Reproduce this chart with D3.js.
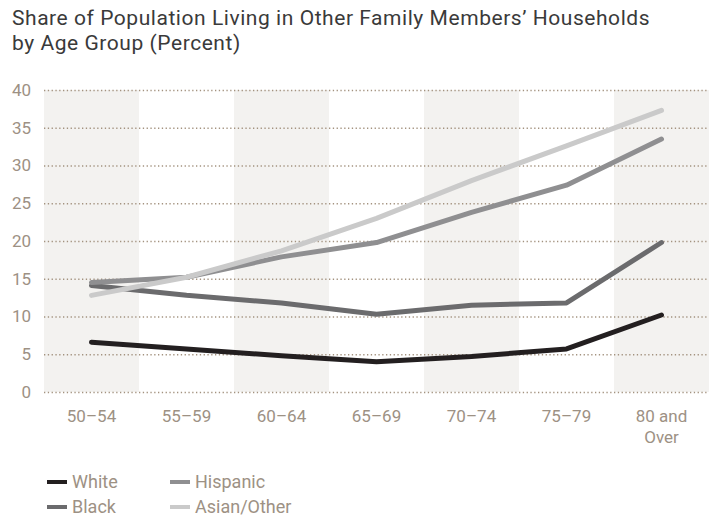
<!DOCTYPE html>
<html><head><meta charset="utf-8">
<script src="https://cdn.jsdelivr.net/npm/d3@7"></script>
<style>body{margin:0;background:#fff}svg{display:block}text{font-family:Roboto,"DejaVu Sans",sans-serif}</style>
</head><body>
<svg id="c" width="711" height="529"></svg>
<script>
const categories = ["50–54","55–59","60–64","65–69","70–74","75–79","80 and Over"];
const white    = [6.6, 5.7, 4.8, 4.0, 4.7, 5.7, 10.2];
const black    = [14.1, 12.8, 11.8, 10.3, 11.5, 11.8, 19.8];
const hispanic = [14.5, 15.2, 17.9, 19.8, 23.8, 27.4, 33.5];
const asian    = [12.8, 15.2, 18.7, 23.0, 28.0, 32.6, 37.3];
const yTicks = [0,5,10,15,20,25,30,35,40];
const seriesNames = ["White","Black","Hispanic","Asian/Other"];
const seriesColors = ["#231f20","#6b6b6d","#8f8f91","#cacaca"];
const titleLines = ["Share of Population Living in Other Family Members’ Households","by Age Group (Percent)"];

const series = [white, black, hispanic, asian];
const svg = d3.select("#c");
const x = d3.scaleBand().domain(categories).range([44, 709]).padding(0);
const y = d3.scaleLinear().domain([0, 40]).range([392, 90]);
const labelColor = "#9d9184";

// title
svg.append("g").selectAll("text").data(titleLines).join("text")
  .attr("x", 12).attr("y", (d,i) => 25 + i*25)
  .attr("font-size", 21).attr("fill", "#3a3a3a").attr("letter-spacing", 0.55)
  .text(d => d);

// alternating bands
svg.append("g").selectAll("rect").data(categories.filter((d,i) => i % 2 === 0)).join("rect")
  .attr("x", d => x(d)).attr("width", x.bandwidth())
  .attr("y", y(40)).attr("height", y(0) - y(40))
  .attr("fill", "#f3f2f0");

// y axis with dotted gridlines
const yAxis = svg.append("g").attr("transform", "translate(44,0)")
  .call(d3.axisLeft(y).tickValues(yTicks).tickSize(-665).tickPadding(13));
yAxis.select(".domain").remove();
yAxis.selectAll(".tick line").attr("stroke", "#a3927f").attr("stroke-width", 1.3)
  .attr("stroke-dasharray", "1.3 2.5");
yAxis.selectAll(".tick text").attr("font-size", 17).attr("fill", labelColor)
  .attr("font-family", "Roboto, sans-serif");

// x axis labels
const xAxis = svg.append("g").attr("transform", "translate(0,392)")
  .call(d3.axisBottom(x).tickSize(0).tickPadding(0));
xAxis.select(".domain").remove();
xAxis.selectAll(".tick text").each(function(d) {
  const t = d3.select(this);
  t.text(null).attr("font-size", 17).attr("fill", labelColor)
   .attr("font-family", "Roboto, sans-serif").attr("y", 0).attr("dy", null);
  const parts = d === "80 and Over" ? ["80 and", "Over"] : [d];
  parts.forEach((p, i) => t.append("tspan").attr("x", 0).attr("y", 30 + i*21).text(p));
});

// lines
const line = d3.line().x((d,i) => x(categories[i]) + x.bandwidth()/2).y(d => y(d));
svg.append("g").selectAll("path").data(series).join("path")
  .attr("d", line).attr("fill", "none")
  .attr("stroke", (d,i) => seriesColors[i]).attr("stroke-width", 5)
  .attr("stroke-linecap", "round").attr("stroke-linejoin", "round");

// legend
const legendOrder = [0, 2, 1, 3];
const lg = svg.append("g").selectAll("g").data(legendOrder).join("g")
  .attr("transform", (d, k) => `translate(${k % 2 === 0 ? 47 : 170},${k < 2 ? 482 : 507})`);
lg.append("line").attr("x1", 0).attr("x2", 20).attr("y1", 0).attr("y2", 0)
  .attr("stroke", d => seriesColors[d]).attr("stroke-width", 4);
lg.append("text").attr("x", 25).attr("y", 0).attr("dy", "0.36em")
  .attr("font-size", 18).attr("fill", labelColor).text(d => seriesNames[d]);
</script>
</body></html>
